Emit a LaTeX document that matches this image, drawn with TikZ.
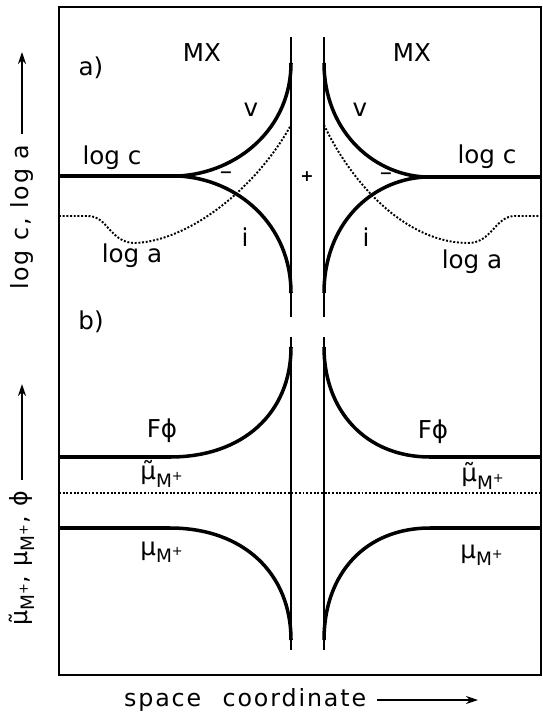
\documentclass[tikz,border=0pt]{standalone}
\usepackage{fontspec}
\setmainfont{DejaVu Sans}
\newfontfamily\axisfont[LetterSpace=8]{DejaVu Sans}
\usetikzlibrary{arrows.meta}
\tikzset{
  frame/.style={line width=1.1pt},
  wall/.style={line width=1.2pt},
  curve/.style={line width=2pt},
  activity/.style={line width=1.1pt, densely dotted},
  lbl/.style={font=\fontsize{14}{16}\selectfont, inner sep=1pt},
  axislbl/.style={font=\axisfont\fontsize{13.5}{15}\selectfont, inner sep=1pt},
  axisarrow/.style={-{Stealth[length=2.4mm,width=1.6mm]}, line width=0.9pt}
}
\newcommand{\ionM}{\raisebox{-0.55ex}{\fontsize{10.5}{12}\selectfont M\textsuperscript{+}}}

\begin{document}
\begin{tikzpicture}[x=0.02cm, y=-0.02cm]
  \useasboundingbox (0,0) rectangle (543,719);
  \draw[frame] (59,7) rectangle (541,675);

  % a) concentrations and activities
  \draw[wall] (291,37) -- (291,317);
  \draw[wall] (324,37) -- (324,317);
  \draw[curve] (59,176) -- (178,176) .. controls (238,173) and (291,128) .. (291,63);
  \draw[curve] (178,176) .. controls (238,179) and (291,225) .. (291,293);
  \draw[curve] (541,177) -- (425,177) .. controls (370,174) and (324,128) .. (324,63);
  \draw[curve] (425,177) .. controls (370,180) and (324,225) .. (324,293);
  \draw[activity] (59,216) -- (88,216) .. controls (108,216) and (110,243) .. (135,243)
    .. controls (188,241) and (255,190) .. (291,125);
  \draw[activity] (324,125) .. controls (355,190) and (410,243) .. (468,243)
    .. controls (492,243) and (495,216) .. (515,216) -- (541,216);

  \node[lbl] (pa) at (91,68) {a)};
  \node[lbl] (mxl) at (202,53) {MX};
  \node[lbl] (mxr) at (412,53) {MX};
  \node[lbl] (vl) at (251,110) {v};
  \node[lbl] (vr) at (360,110) {v};
  \node[lbl] (logcl) at (112,158) {log c};
  \node[lbl] (logcr) at (487,157) {log c};
  \node[lbl] (minl) at (226,176) {–};
  \node[lbl] (minr) at (386,177) {–};
  \node[lbl, font=\fontsize{9}{10}\bfseries] (plus) at (307,177) {+};
  \node[lbl] (il) at (245,237) {i};
  \node[lbl] (ir) at (366,237) {i};
  \node[lbl] (logal) at (132,256) {log a};
  \node[lbl] (logar) at (472,262) {log a};

  % b) potentials
  \draw[wall] (291,337) -- (291,650);
  \draw[wall] (324,337) -- (324,650);
  \draw[curve] (59,457) -- (170,457) .. controls (243,457) and (291,413) .. (291,347);
  \draw[curve] (59,528) -- (170,528) .. controls (243,528) and (291,573) .. (291,640);
  \draw[curve] (541,457) -- (430,457) .. controls (366,457) and (324,411) .. (324,347);
  \draw[curve] (541,528) -- (430,528) .. controls (366,528) and (324,573) .. (324,640);
  \draw[activity] (59,493) -- (541,493);

  \node[lbl] (pb) at (91,322) {b)};
  \node[lbl] (fphil) at (162,431) {Fϕ};
  \node[lbl] (fphir) at (433,432) {Fϕ};
  \node[lbl] (eml) at (162,474) {μ̃\ionM};
  \node[lbl] (emr) at (483,476) {μ̃\ionM};
  \node[lbl] (chl) at (162,552) {μ\ionM};
  \node[lbl] (chr) at (482,555) {μ\ionM};

  % axis labels
  \node[axislbl, rotate=90, anchor=west] (ylaba) at (22,292) {log c, log a};
  \coordinate (ytipa) at (22,52);
  \draw[axisarrow, shorten <=5pt] (ylaba.east) -- (ytipa);
  \node[axislbl, rotate=90, anchor=west] (ylabb) at (22,628) {μ̃\ionM, μ\ionM, ϕ};
  \coordinate (ytipb) at (22,384);
  \draw[axisarrow, shorten <=5pt] (ylabb.east) -- (ytipb);
  \node[axislbl, anchor=west] (xlab) at (122,700) {space\hspace{0.5em} coordinate};
  \coordinate (xtip) at (478,700);
  \draw[axisarrow, shorten <=5pt] (xlab.east) -- (xtip);
\end{tikzpicture}
\end{document}
